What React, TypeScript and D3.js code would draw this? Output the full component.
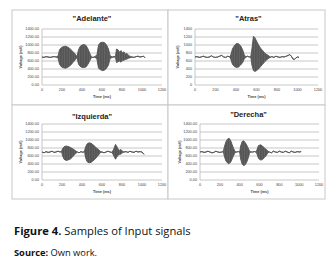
import React from "react";
import * as d3 from "d3";

// ---- data ----
const yTicksDec = ["0.00", "200.00", "400.00", "600.00", "800.00", "1000.00", "1200.00", "1400.00"];
const yTicksInt = ["0", "200", "400", "600", "800", "1000", "1200", "1400"];
const xTicks = [0, 200, 400, 600, 800, 1000, 1200];

const adelanteT = [0,20,40,60,80,100,120,140,160,175,195,215,235,255,275,295,315,335,350,365,380,400,420,440,460,480,495,510,530,550,565,585,605,625,645,665,680,700,720,735,745,760,775,790,805,820,835,850,865,880,900,920,940,960,980,1000,1015,1030];
const adelanteHi = [700,690,710,700,690,700,710,700,720,880,940,960,970,950,920,870,820,760,710,880,960,1000,1010,990,900,780,700,690,710,760,1000,1060,1070,1060,1000,900,740,700,710,720,900,880,820,860,800,830,770,790,740,720,700,690,710,720,700,710,720,680];
const adelanteLo = [700,690,710,700,690,700,710,700,680,520,450,430,420,440,470,520,580,640,690,520,470,440,440,450,520,620,690,690,700,640,420,380,360,370,420,500,660,690,700,690,560,580,600,570,610,620,640,650,670,680,700,690,710,720,700,710,720,680];

const atrasT = [0,20,40,60,80,100,120,140,160,180,200,220,240,260,280,300,320,340,350,365,385,405,425,445,465,480,495,510,530,545,555,570,585,600,620,640,660,680,700,720,735,750,770,790,810,830,850,870,890,910,925,940,955,970,985,1000,1015];
const atrasHi = [700,710,690,700,720,700,690,700,730,700,690,700,720,740,700,690,720,700,760,900,990,1040,1030,980,880,760,700,720,700,720,900,1220,1180,1100,1000,920,860,800,760,730,700,710,690,720,700,690,710,700,720,740,760,720,650,640,680,700,690];
const atrasLo = [700,710,690,700,720,700,690,700,730,700,690,700,720,740,700,690,720,700,640,520,460,440,450,500,560,650,690,720,700,690,500,360,340,360,400,460,520,580,630,670,690,710,690,720,700,690,710,700,720,740,760,720,650,640,680,700,690];

const izquierdaT = [0,20,40,60,80,100,120,140,160,180,195,205,220,240,260,280,300,320,340,355,370,390,410,425,435,450,470,490,510,530,550,570,585,600,620,640,660,680,700,715,735,745,760,775,790,805,820,840,860,880,900,920,940,960,980,1000,1020];
const izquierdaHi = [700,680,710,690,700,720,690,700,720,700,710,780,830,850,840,820,790,760,720,700,680,710,690,720,820,900,930,920,880,840,790,750,710,700,680,700,720,700,690,760,890,850,780,740,760,720,700,710,690,720,700,690,720,700,710,700,640];
const izquierdaLo = [700,680,710,690,700,720,690,700,720,700,710,610,520,490,500,520,560,620,670,700,680,710,690,720,560,460,430,440,480,520,580,640,690,700,680,700,720,700,690,620,520,560,620,640,650,680,700,710,690,720,700,690,720,700,710,700,640];

const derechaT = [0,20,40,60,80,100,120,140,160,180,200,220,235,245,260,280,295,310,325,340,355,370,385,400,410,425,440,455,470,485,500,515,530,550,565,575,590,610,630,650,670,685,700,720,740,760,780,800,820,840,860,880,900,920,940,960,980,1000,1020];
const derechaHi = [700,710,690,700,720,700,680,690,720,700,690,700,710,820,950,1030,1040,980,880,780,710,700,710,700,850,960,980,940,880,800,720,700,700,710,700,760,860,880,850,800,760,720,700,680,720,700,690,720,700,690,720,700,680,720,700,690,710,700,710];
const derechaLo = [700,710,690,700,720,700,680,690,720,700,690,700,710,600,480,420,410,450,530,620,690,700,710,700,520,400,360,380,440,540,680,700,700,710,700,650,540,500,510,560,620,680,700,680,720,700,690,720,700,690,720,700,680,720,700,690,710,700,710];

const titles = ["\"Adelante\"", "\"Atras\"", "\"Izquierda\"", "\"Derecha\""];

type PanelProps = {
  box: [number, number, number, number];
  plot: [number, number, number, number];
  title: string;
  titleY: number;
  yLabels: string[];
  yTitleX: number;
  t: number[];
  hi: number[];
  lo: number[];
};

function Panel({ box, plot, title, titleY, yLabels, yTitleX, t, hi, lo }: PanelProps) {
  const [px0, py0, px1, py1] = plot;
  const x = d3.scaleLinear().domain([0, 1200]).range([px0, px1]);
  const y = d3.scaleLinear().domain([0, 1400]).range([py1, py0]);
  const idx = d3.range(t.length);
  const area = d3.area<number>().x((i) => x(t[i])).y0((i) => y(lo[i])).y1((i) => y(hi[i]));
  const lineHi = d3.line<number>().x((i) => x(t[i])).y((i) => y(hi[i]));
  const lineLo = d3.line<number>().x((i) => x(t[i])).y((i) => y(lo[i]));
  const font = "'Liberation Sans', Arial, sans-serif";
  return (
    <g>
      <rect x={box[0]} y={box[1]} width={box[2] - box[0]} height={box[3] - box[1]} fill="#fff" stroke="#c8c8c8" strokeWidth={1} />
      <text x={(box[0] + box[2]) / 2 + 2} y={titleY} textAnchor="middle" dominantBaseline="central" fontFamily={font} fontWeight="bold" fontSize={7.5} fill="#222">{title}</text>
      {yLabels.map((lab, i) => (
        <g key={lab}>
          <line x1={px0} x2={px1} y1={y(i * 200)} y2={y(i * 200)} stroke="#b0b0b0" strokeWidth={0.7} />
          <text x={px0 - 3} y={y(i * 200)} textAnchor="end" dominantBaseline="central" fontFamily={font} fontSize={3.8} fill="#444">{lab}</text>
        </g>
      ))}
      <line x1={px0} x2={px0} y1={py0} y2={py1} stroke="#b0b0b0" strokeWidth={0.7} />
      {xTicks.map((v) => (
        <text key={v} x={x(v)} y={py1 + 5} textAnchor="middle" dominantBaseline="central" fontFamily={font} fontSize={3.8} fill="#444">{v}</text>
      ))}
      <text x={(px0 + px1) / 2} y={py1 + 12} textAnchor="middle" dominantBaseline="central" fontFamily={font} fontWeight="bold" fontSize={3.8} fill="#444">Time (ms)</text>
      <text transform={`translate(${yTitleX},${(py0 + py1) / 2}) rotate(-90)`} textAnchor="middle" dominantBaseline="central" fontFamily={font} fontWeight="bold" fontSize={3.8} fill="#444">Voltage (mV)</text>
      <path d={area(idx) || ""} fill="url(#burst)" />
      <path d={lineHi(idx) || ""} fill="none" stroke="#555" strokeWidth={0.9} />
      <path d={lineLo(idx) || ""} fill="none" stroke="#555" strokeWidth={0.9} />
    </g>
  );
}

export default function App() {
  const capFont = "'Open Sans', 'DejaVu Sans', sans-serif";
  return (
    <svg width={332} height={277} style={{ position: "absolute", left: 0, top: 0, background: "#fff" }}>
      <defs>
        <pattern id="burst" patternUnits="userSpaceOnUse" width={2.5} height={4}>
          <rect width={2.5} height={4} fill="#555" />
          <rect x={1.8} width={0.5} height={4} fill="#717171" />
        </pattern>
      </defs>
      <rect x={0} y={0} width={332} height={277} fill="#fff" />
      <Panel box={[12, 10, 168, 105]} plot={[42, 29, 162, 85]} title={titles[0]} titleY={18} yLabels={yTicksDec} yTitleX={21} t={adelanteT} hi={adelanteHi} lo={adelanteLo} />
      <Panel box={[168, 10, 325, 105]} plot={[195, 29, 318, 85]} title={titles[1]} titleY={18} yLabels={yTicksInt} yTitleX={178} t={atrasT} hi={atrasHi} lo={atrasLo} />
      <Panel box={[12, 105, 168, 199]} plot={[42, 124, 162, 180]} title={titles[2]} titleY={116} yLabels={yTicksDec} yTitleX={21} t={izquierdaT} hi={izquierdaHi} lo={izquierdaLo} />
      <Panel box={[168, 105, 325, 199]} plot={[200, 124, 319, 180]} title={titles[3]} titleY={114} yLabels={yTicksDec} yTitleX={180} t={derechaT} hi={derechaHi} lo={derechaLo} />
      <text x={14} y={235} fontFamily={capFont} fontSize={11.2} fill="#111">
        <tspan fontWeight="bold">Figure 4.</tspan>
        <tspan> Samples of Input signals</tspan>
      </text>
      <text x={14} y={256} fontFamily={capFont} fontSize={9.3} fill="#111">
        <tspan fontWeight="bold">Source:</tspan>
        <tspan> Own work.</tspan>
      </text>
    </svg>
  );
}
